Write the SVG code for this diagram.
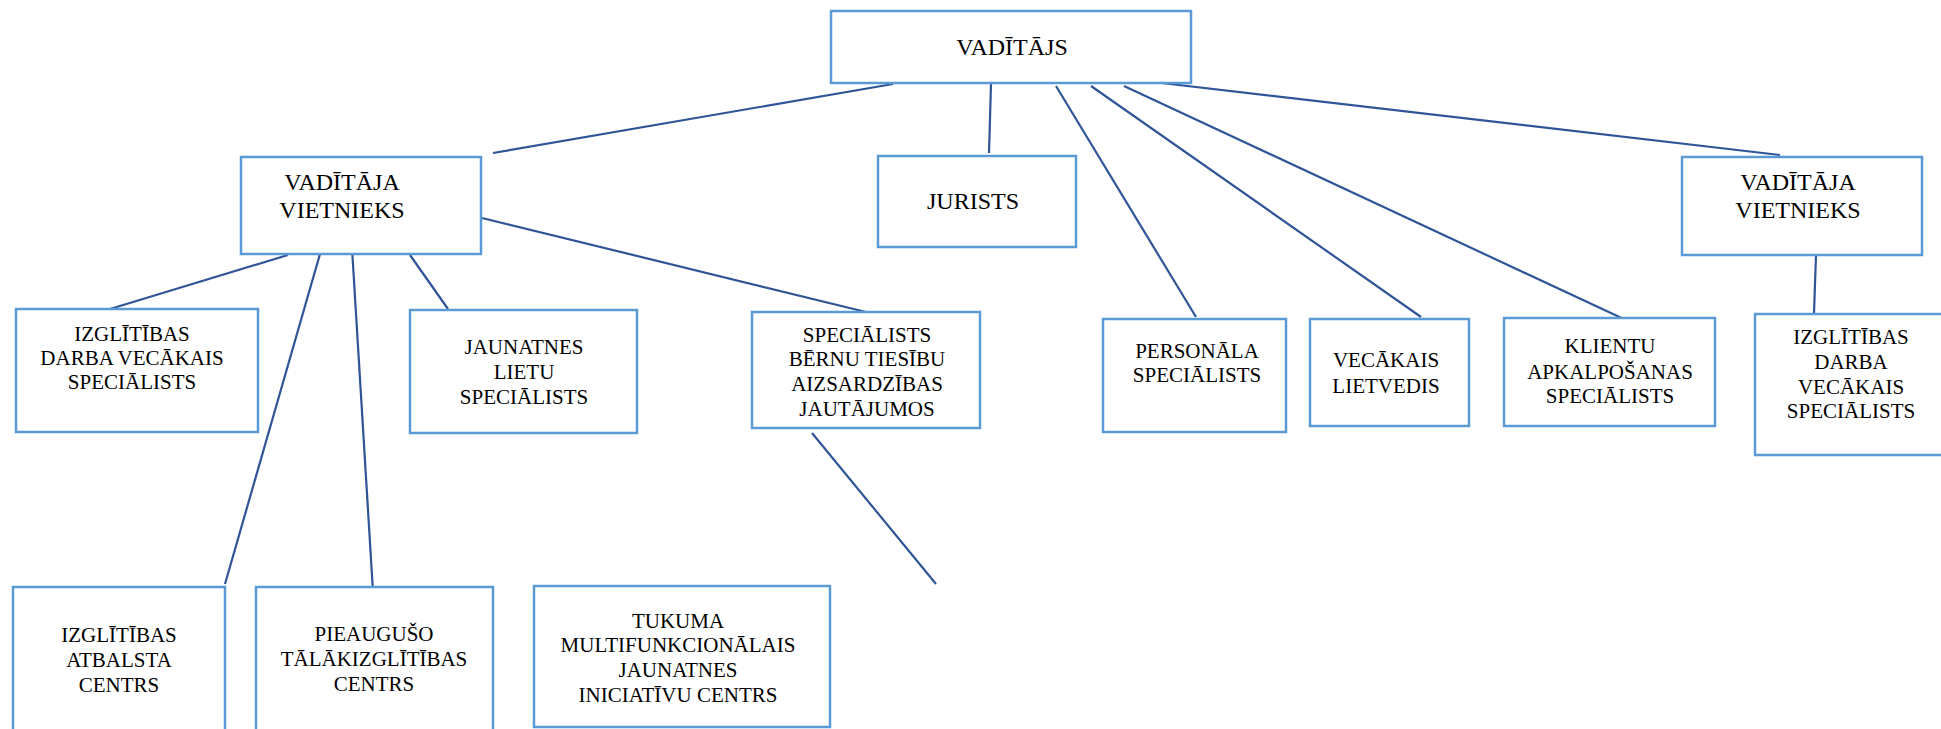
<svg xmlns="http://www.w3.org/2000/svg" width="1941" height="729" viewBox="0 0 1941 729">
<style>
.box{fill:#fff;stroke:#5B9BD5;stroke-width:2.5}
.c line{stroke:#2F5597;stroke-width:2.2;stroke-linecap:butt}
</style>
<rect width="1941" height="729" fill="#fff"/>
<g class="c" id="connectors">
<line x1="893" y1="84" x2="493" y2="153"/>
<line x1="991" y1="84" x2="989" y2="153"/>
<line x1="1056" y1="86" x2="1196" y2="317"/>
<line x1="1091" y1="86" x2="1421" y2="317"/>
<line x1="1124" y1="86" x2="1628" y2="321"/>
<line x1="1153" y1="82" x2="1780" y2="155"/>
<line x1="288" y1="255" x2="110" y2="309"/>
<line x1="320" y1="254" x2="225" y2="584"/>
<line x1="352" y1="248" x2="373" y2="592"/>
<line x1="410" y1="255" x2="448" y2="309"/>
<line x1="482" y1="218" x2="866" y2="312"/>
<line x1="1816" y1="255" x2="1814" y2="313"/>
<line x1="812" y1="433" x2="936" y2="584"/>
</g>
<g font-family="Liberation Serif, Times New Roman, serif" fill="#000" text-anchor="middle" font-size="21">
<g id="n-vaditajs"><rect class="box" x="831" y="11" width="360" height="72"/><text font-size="24" x="1012" y="55">VADĪTĀJS</text></g>
<g id="n-vv-left"><rect class="box" x="241" y="157" width="240" height="97"/><text font-size="24" x="342" y="190">VADĪTĀJA</text><text font-size="24" x="342" y="218">VIETNIEKS</text></g>
<g id="n-jurists"><rect class="box" x="878" y="156" width="198" height="91"/><text font-size="24" x="973" y="209">JURISTS</text></g>
<g id="n-vv-right"><rect class="box" x="1682" y="157" width="240" height="98"/><text font-size="24" x="1798" y="190">VADĪTĀJA</text><text font-size="24" x="1798" y="218">VIETNIEKS</text></g>
<g id="n-izgl-left"><rect class="box" x="16" y="309" width="242" height="123"/><text x="132" y="341">IZGLĪTĪBAS</text><text x="132" y="365">DARBA VECĀKAIS</text><text x="132" y="389">SPECIĀLISTS</text></g>
<g id="n-jaunatnes"><rect class="box" x="410" y="310" width="227" height="123"/><text x="524" y="354">JAUNATNES</text><text x="524" y="379">LIETU</text><text x="524" y="404">SPECIĀLISTS</text></g>
<g id="n-bernu"><rect class="box" x="752" y="312" width="228" height="116"/><text x="867" y="342">SPECIĀLISTS</text><text x="867" y="366">BĒRNU TIESĪBU</text><text x="867" y="391">AIZSARDZĪBAS</text><text x="867" y="416">JAUTĀJUMOS</text></g>
<g id="n-personala"><rect class="box" x="1103" y="319" width="183" height="113"/><text x="1197" y="358">PERSONĀLA</text><text x="1197" y="382">SPECIĀLISTS</text></g>
<g id="n-lietvedis"><rect class="box" x="1310" y="319" width="159" height="107"/><text x="1386" y="367">VECĀKAIS</text><text x="1386" y="393">LIETVEDIS</text></g>
<g id="n-klientu"><rect class="box" x="1504" y="318" width="211" height="108"/><text x="1610" y="353">KLIENTU</text><text x="1610" y="379">APKALPOŠANAS</text><text x="1610" y="403">SPECIĀLISTS</text></g>
<g id="n-izgl-right"><rect class="box" x="1755" y="314" width="200" height="141"/><text x="1851" y="344">IZGLĪTĪBAS</text><text x="1851" y="369">DARBA</text><text x="1851" y="394">VECĀKAIS</text><text x="1851" y="418">SPECIĀLISTS</text></g>
<g id="n-atbalsta"><rect class="box" x="13" y="587" width="212" height="160"/><text x="119" y="642">IZGLĪTĪBAS</text><text x="119" y="667">ATBALSTA</text><text x="119" y="692">CENTRS</text></g>
<g id="n-pieauguso"><rect class="box" x="256" y="587" width="237" height="160"/><text x="374" y="641">PIEAUGUŠO</text><text x="374" y="666">TĀLĀKIZGLĪTĪBAS</text><text x="374" y="691">CENTRS</text></g>
<g id="n-tukuma"><rect class="box" x="534" y="586" width="296" height="141"/><text x="678" y="628">TUKUMA</text><text x="678" y="652">MULTIFUNKCIONĀLAIS</text><text x="678" y="677">JAUNATNES</text><text x="678" y="702">INICIATĪVU CENTRS</text></g>
</g>
</svg>
